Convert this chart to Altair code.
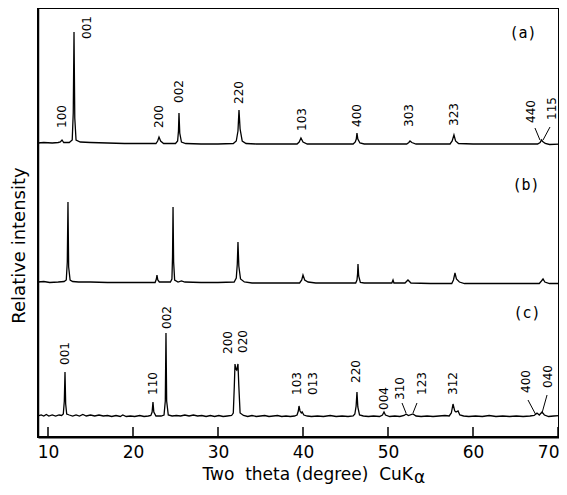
import altair as alt
import pandas as pd

# ---- data: (2theta, intensity above pattern baseline) ----
PATTERN_A = [(8.82,0),(9.5,0.5),(10.5,0),(11.2,0.5),(11.45,1),(11.65,3),(11.85,0.5),(12.5,0.5),
             (12.85,3),(12.97,30),(13.06,111),(13.15,25),(13.3,3),(13.8,1),(15,0.5),(17,0),(19,-0.5),
             (21,-0.5),(22.7,-0.5),(22.9,2),(23.06,6),(23.25,2),(23.6,-0.5),(25.0,-0.5),(25.25,2),
             (25.35,12),(25.41,30),(25.5,10),(25.7,1),(26.2,-0.5),(28,-1),(30,-1),(31.8,-0.5),
             (32.15,2),(32.35,12),(32.47,33),(32.6,14),(32.85,2),(33.3,-0.5),(34.5,-1),(37,-1),
             (39.3,-1),(39.55,1),(39.76,5),(40.0,1),(40.5,-1),(43,-1),(45.9,-1),(46.15,1),(46.27,4),
             (46.35,10),(46.45,4),(46.7,0),(47.2,-1),(50,-1),(52.2,-1),(52.45,0.5),(52.59,2),
             (52.8,0.5),(53.3,-1),(55,-1),(57.3,-1),(57.55,2),(57.76,8),(57.95,2),(58.3,-0.5),
             (60,-1),(63,-1),(66,-1),(67.6,-1),(67.9,0.5),(68.05,3),(68.2,1.5),(68.5,-0.5),
             (69,-1.5),(70.2,-1)]

PATTERN_B = [(8.82,0),(9.5,0.5),(10.2,-0.5),(11.2,0),(11.9,0.5),(12.15,2),(12.27,20),(12.35,80),
             (12.43,15),(12.6,2),(12.9,0.5),(13.6,0),(15,0),(17,-0.5),(19,-0.5),(21,-0.5),(22.6,-0.5),
             (22.75,3),(22.82,7),(22.92,2),(23.1,0),(24.4,0),(24.58,3),(24.65,25),(24.71,75),
             (24.78,20),(24.9,2),(25.3,0),(25.7,1),(26.1,0),(28,-0.5),(30,-0.5),(31.9,0),(32.15,4),
             (32.27,18),(32.35,40),(32.45,16),(32.65,3),(33.1,0),(34,-1),(37,-1),(39.6,-1),(39.85,2),
             (40.0,7),(40.2,2),(40.6,0),(41.5,-1),(44,-1),(46.2,-1),(46.35,2),(46.42,8),(46.47,18),
             (46.55,6),(46.75,-0.5),(47.2,-1),(49,-1),(50.45,-1),(50.59,2),(50.7,-1),(52.0,-1),
             (52.35,2),(52.7,-1),(55,-1.5),(57.5,-1.5),(57.7,2),(57.88,9),(58.05,3),(58.4,0),
             (59,-1.5),(62,-1.5),(65,-1.5),(67.8,-1.5),(68.05,1),(68.24,3),(68.45,0),(69,-1.5),
             (70.2,-1.5)]

PATTERN_C = [(8.82,0),(9.2,1),(9.5,0),(9.8,1.5),(10.1,0),(10.5,1),(10.9,0),(11.3,1),(11.6,0.5),
             (11.8,2),(11.92,15),(12.0,44),(12.08,12),(12.2,2),(12.5,1),(12.9,0),(13.3,1),(13.7,0),
             (14.1,1.5),(14.5,0),(15.0,1),(15.5,0),(16.0,1),(16.5,0),(17.0,0.5),(17.5,-0.5),
             (18.0,0.5),(18.5,-0.5),(18.8,1),(19.2,-0.5),(19.7,0),(20.2,-0.5),(20.8,0.5),(21.3,-0.5),
             (21.8,0),(22.1,0.5),(22.25,4),(22.35,14),(22.45,4),(22.7,0),(23.3,0),(23.65,1),
             (23.8,15),(23.88,83),(23.96,15),(24.15,1),(24.6,0),(25.1,0.5),(25.6,0),(26.1,1),
             (26.6,0),(27.1,1),(27.6,0),(28.1,0.5),(28.6,-0.5),(29.1,0.5),(29.6,-0.5),(30.1,0.5),
             (30.6,-0.5),(31.1,0),(31.6,0.5),(31.8,3),(31.92,30),(32.0,52),(32.1,47),(32.2,46),
             (32.35,52),(32.45,30),(32.6,3),(33.0,0.5),(33.5,-0.5),(34.0,0.5),(34.5,-0.5),(35.0,0),
             (35.5,0.5),(36.0,-0.5),(36.5,0),(37.0,0.5),(37.5,-0.5),(38.0,0),(38.5,-0.5),(39.0,0),
             (39.3,1),(39.45,5),(39.53,10),(39.65,5),(39.8,3),(39.9,4),(40.1,1),(40.5,0),(41.0,-0.5),
             (41.7,0),(42.4,-0.5),(43.2,0.5),(43.9,-0.5),(44.6,0),(45.3,-0.5),(45.9,0),(46.1,2),
             (46.25,10),(46.35,24),(46.45,9),(46.65,1),(47.1,0),(47.7,-0.5),(48.3,0),(49.0,-0.5),
             (49.35,1),(49.53,4),(49.7,1),(50.2,-0.5),(50.8,0),(51.4,-0.5),(51.9,0.5),(52.12,2),
             (52.4,0.5),(52.94,2),(53.3,0),(53.9,-0.5),(54.6,0),(55.3,-0.5),(56.0,0),(56.7,0.5),
             (57.2,0),(57.45,3),(57.65,12),(57.85,5),(58.0,4),(58.24,5),(58.45,1),(58.9,0),
             (59.5,-0.5),(60.3,0),(61.1,-0.5),(61.9,0.5),(62.7,-0.5),(63.5,0),(64.3,-0.5),(65.1,0),
             (65.9,-0.5),(66.7,0),(67.2,0.5),(67.53,3),(67.8,1),(68.12,4),(68.4,1),(68.9,-0.5),
             (69.5,0),(70.2,0.5)]

PATTERN_NAMES = ["a", "b", "c"]
OFFSETS = [294, 155, 21]          # vertical stacking of the three patterns

LABELS_A = ["100", "001", "200", "002", "220", "103", "400", "303", "323", "440", "115"]
LABELS_A_X = [11.65, 14.55, 23.06, 25.41, 32.47, 39.88, 46.35, 52.47, 57.76, 66.82, 69.29]
LABELS_A_Y = [309, 398, 309, 334, 333, 306, 310, 310, 311, 314, 317]

LABELS_C = ["001", "110", "002", "200", "020", "103", "013", "220", "004", "310", "123", "312", "400", "040"]
LABELS_C_X = [12.0, 22.35, 24.0, 31.14, 32.94, 39.29, 41.18, 46.24, 49.53, 51.41, 54.0, 57.65, 66.24, 68.82]
LABELS_C_Y = [72, 42, 108, 83, 84, 42, 42, 54, 27, 37, 42, 42, 44, 49]

LEADERS = [(67.29, 309, 67.88, 297), (69.06, 310, 68.24, 297),
           (51.65, 34, 52.12, 24), (53.41, 34, 52.94, 24),
           (66.47, 37, 67.41, 22), (68.71, 42, 68.12, 24)]

PANELS = ["(a)", "(b)", "(c)"]
PANELS_X = [65.88, 66.23, 66.35]
PANELS_Y = [404, 252, 124]

X_TICKS = [10, 20, 30, 40, 50, 60, 70]

X_DOMAIN = [8.8235, 70.118]
Y_DOMAIN = [0, 429]
W, H = 521, 429
FONT = "DejaVu Sans"

rows = []
for name, off, pat in zip(PATTERN_NAMES, OFFSETS, [PATTERN_A, PATTERN_B, PATTERN_C]):
    for t, v in pat:
        rows.append({"theta": t, "y": v + off, "pattern": name})
lines_df = pd.DataFrame(rows)

xs = alt.Scale(domain=X_DOMAIN, nice=False, zero=False)
ys = alt.Scale(domain=Y_DOMAIN, nice=False, zero=False)

lines = alt.Chart(lines_df).mark_line(color="black", strokeWidth=1.3, clip=True).encode(
    x=alt.X("theta:Q", scale=xs,
            axis=alt.Axis(values=X_TICKS, format="d", ticks=False, grid=False, title=None,
                          labelFont=FONT, labelFontSize=17, labelColor="black", labelPadding=7,
                          labelFlush=5, labelFlushOffset=1, labelOverlap=False,
                          domainColor="black", domainWidth=2)),
    y=alt.Y("y:Q", scale=ys,
            axis=alt.Axis(ticks=False, labels=False, grid=False, title="Relative intensity",
                          titleFont=FONT, titleFontSize=18, titleFontWeight="normal",
                          titleColor="black", titleAngle=270, titleX=-19, titleY=237,
                          titleAlign="center", titleBaseline="middle",
                          domainColor="black", domainWidth=1.5)),
    detail="pattern:N",
    order="theta:Q",
)

ticks_df = pd.DataFrame({"t": X_TICKS})
ticks = alt.Chart(ticks_df).mark_rule(color="black", strokeWidth=1.5).encode(
    x=alt.X("t:Q", scale=xs), y=alt.value(H), y2=alt.value(H - 10))

lab_df = pd.DataFrame({
    "text": LABELS_A + LABELS_C,
    "x": LABELS_A_X + LABELS_C_X,
    "y": LABELS_A_Y + LABELS_C_Y,
})
labels = alt.Chart(lab_df).mark_text(angle=270, align="left", baseline="middle",
                                     font=FONT, fontSize=12, color="black").encode(
    x=alt.X("x:Q", scale=xs), y=alt.Y("y:Q", scale=ys), text="text:N")

lead_df = pd.DataFrame(LEADERS, columns=["x", "y", "x2", "y2"])
leaders = alt.Chart(lead_df).mark_rule(color="black", strokeWidth=1).encode(
    x=alt.X("x:Q", scale=xs), y=alt.Y("y:Q", scale=ys), x2="x2:Q", y2="y2:Q")

pan_df = pd.DataFrame({"text": PANELS, "x": PANELS_X, "y": PANELS_Y})
panels = alt.Chart(pan_df).mark_text(align="center", baseline="middle",
                                     font="DejaVu Sans Mono", fontSize=15, color="black").encode(
    x=alt.X("x:Q", scale=xs), y=alt.Y("y:Q", scale=ys), text="text:N")

title_main = alt.Chart(pd.DataFrame({"t": ["Two\u00a0 theta (degree)\u00a0 CuK"]})).mark_text(
    align="right", baseline="alphabetic", font=FONT, fontSize=17, color="black").encode(
    x=alt.value(375), y=alt.value(472), text="t:N")
title_sub = alt.Chart(pd.DataFrame({"t": ["\u03b1"]})).mark_text(
    align="left", baseline="alphabetic", font=FONT, fontSize=17, color="black").encode(
    x=alt.value(376), y=alt.value(475), text="t:N")

chart = alt.layer(lines, ticks, labels, leaders, panels, title_main, title_sub).properties(
    width=W, height=H,
    autosize=alt.AutoSizeParams(type="none"),
    padding={"left": 30, "top": 0, "right": 0, "bottom": 50},
).configure_view(stroke="black", strokeWidth=2)

chart.save("out.html", embed_options={"renderer": "svg", "actions": False})
